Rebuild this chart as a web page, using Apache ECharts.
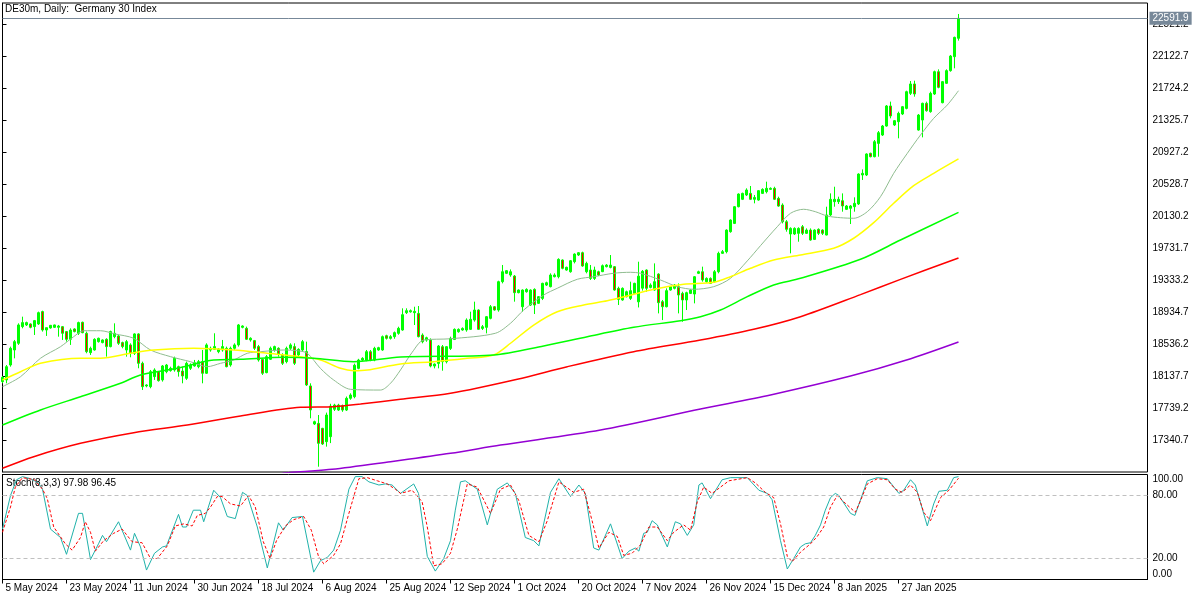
<!DOCTYPE html>
<html>
<head>
<meta charset="utf-8">
<script src="https://cdn.jsdelivr.net/npm/echarts@6.0.0/dist/echarts.min.js"></script>
<style>
html, body { margin: 0; padding: 0; background: #fff; }
#main { width: 1200px; height: 600px; }
</style>
</head>
<body>
<div id="main"></div>
<script>
// date labels, one every 16 bars (the feed has Sunday bars)
const xLabels = ['5 May 2024', '23 May 2024', '11 Jun 2024', '30 Jun 2024', '18 Jul 2024', '6 Aug 2024',
  '25 Aug 2024', '12 Sep 2024', '1 Oct 2024', '20 Oct 2024', '7 Nov 2024', '26 Nov 2024',
  '15 Dec 2024', '8 Jan 2025', '27 Jan 2025'];
const priceTicks = [17340.7, 17739.2, 18137.7, 18536.2, 18934.7, 19333.2, 19731.7, 20130.2,
  20528.7, 20927.2, 21325.7, 21724.2, 22122.7, 22521.2];
const stochTicks = [0, 20, 80, 100];

// daily bars: [open, high, low, close]
const ohlc = [
  [18066,18136,18045,18120],[18087,18273,18045,18252],[18273,18502,18252,18481],[18460,18585,18356,18564],
  [18543,18792,18523,18772],[18751,18875,18730,18801],[18772,18813,18759,18801],[18784,18792,18730,18742],
  [18751,18834,18647,18826],[18784,18938,18772,18925],[18938,18950,18689,18709],[18709,18738,18635,18738],
  [18734,18772,18726,18767],[18742,18776,18734,18772],[18742,18772,18626,18759],[18751,18759,18585,18668],
  [18689,18697,18564,18593],[18593,18730,18523,18709],[18722,18730,18680,18689],[18668,18813,18647,18801],
  [18805,18813,18668,18676],[18668,18689,18419,18439],[18427,18502,18398,18481],[18460,18606,18452,18593],
  [18564,18614,18552,18606],[18552,18593,18543,18585],[18593,18606,18377,18502],[18502,18701,18493,18689],
  [18626,18792,18606,18668],[18635,18647,18523,18543],[18552,18564,18481,18502],[18460,18585,18377,18564],
  [18523,18543,18369,18419],[18419,18668,18398,18660],[18660,18668,18232,18294],[18294,18315,17962,18003],
  [18012,18033,17995,18024],[18003,18211,17983,18190],[18128,18232,18087,18211],[18190,18198,18066,18078],
  [18087,18273,18066,18261],[18190,18286,18170,18273],[18203,18252,18190,18232],[18211,18377,18190,18356],
  [18252,18265,18128,18190],[18198,18252,18045,18136],[18107,18315,18087,18294],[18232,18294,18211,18273],
  [18261,18336,18252,18302],[18252,18336,18232,18315],[18315,18460,18045,18170],[18170,18543,18161,18523],
  [18460,18502,18439,18481],[18468,18668,18460,18502],[18439,18481,18419,18472],[18460,18585,18439,18502],
  [18481,18502,18244,18252],[18273,18502,18252,18481],[18481,18543,18460,18523],[18523,18784,18502,18772],
  [18742,18767,18730,18759],[18730,18751,18585,18593],[18585,18618,18564,18606],[18577,18585,18460,18481],
  [18502,18523,18315,18336],[18344,18356,18149,18170],[18178,18398,18170,18377],[18344,18502,18336,18481],
  [18460,18514,18439,18502],[18481,18493,18377,18410],[18398,18419,18273,18294],[18315,18502,18294,18481],
  [18481,18543,18460,18523],[18502,18543,18273,18294],[18398,18481,18385,18468],[18460,18585,18439,18564],
  [18440,18564,18012,18024],[18012,18045,17609,17713],[17538,17580,17526,17567],[17546,17650,17006,17297],
  [17484,17490,17277,17289],[17318,17680,17256,17650],[17380,17790,17300,17760],[17721,17790,17700,17774],
  [17712,17790,17700,17774],[17766,17780,17690,17712],[17712,17880,17700,17858],[17858,17920,17840,17899],
  [17878,18290,17858,18270],[18231,18350,18220,18335],[18335,18370,18320,18356],[18335,18460,18320,18439],
  [18439,18460,18320,18335],[18335,18500,18320,18481],[18460,18500,18450,18489],[18460,18640,18450,18626],
  [18638,18650,18590,18605],[18605,18645,18590,18626],[18626,18690,18600,18676],[18667,18750,18650,18730],
  [18709,18979,18700,18900],[18925,18979,18908,18950],[18935,18965,18925,18950],[18925,18999,18771,18941],
  [18916,19008,18617,18626],[18646,18667,18543,18563],[18584,18626,18563,18613],[18584,18605,18244,18260],
  [18260,18293,18231,18285],[18293,18522,18231,18509],[18501,18522,18202,18314],[18314,18509,18293,18501],
  [18480,18626,18460,18605],[18592,18729,18584,18717],[18688,18729,18675,18717],[18709,18742,18700,18729],
  [18709,18854,18688,18833],[18717,18937,18709,18842],[18833,19062,18813,18958],[18958,18966,18709,18717],
  [18729,18771,18709,18750],[18742,18883,18667,18875],[18854,19020,18842,18999],[18999,19008,18950,18958],
  [18958,19323,18937,19311],[19311,19519,19290,19435],[19415,19456,19406,19448],[19394,19464,19373,19435],
  [19381,19394,19062,19174],[19174,19215,19166,19207],[18999,19215,18937,19207],[19186,19228,19174,19215],
  [19020,19215,19008,19207],[19215,19228,18908,19020],[19041,19132,19033,19124],[19103,19298,19082,19290],
  [19269,19311,19257,19298],[19249,19415,19240,19394],[19373,19415,19365,19394],[19373,19602,19352,19589],
  [19581,19589,19465,19477],[19456,19498,19448,19490],[19435,19581,19423,19572],[19560,19664,19539,19655],
  [19643,19680,19631,19672],[19672,19685,19498,19506],[19435,19560,19415,19539],[19456,19519,19332,19352],
  [19352,19498,19332,19456],[19435,19448,19381,19394],[19436,19525,19430,19510],[19498,19530,19489,19518],
  [19489,19643,19477,19518],[19498,19506,19199,19207],[19228,19249,19020,19091],[19083,19240,19074,19228],
  [19124,19199,19116,19186],[19103,19311,19083,19199],[19165,19298,19157,19290],[19060,19560,18990,19380],
  [19230,19456,19200,19440],[19456,19464,19186,19228],[19240,19290,19228,19269],[19207,19539,19199,19311],
  [19406,19415,18916,19049],[19062,19083,18833,18999],[18999,19228,18991,19199],[19207,19257,19199,19249],
  [19228,19282,19215,19269],[19249,19290,18916,19145],[19165,19186,18812,19083],[19083,19186,18958,19174],
  [19165,19215,19157,19207],[19157,19381,19041,19373],[19415,19448,19406,19435],[19435,19498,19311,19332],
  [19311,19365,19298,19352],[19352,19365,19282,19290],[19311,19456,19298,19435],[19435,19685,19415,19664],
  [19664,19706,19656,19685],[19685,19963,19664,19954],[19934,20087,19921,20079],[20037,20253,20029,20245],
  [20245,20411,20237,20403],[20337,20420,20328,20411],[20391,20474,20378,20453],[20411,20503,20328,20337],
  [20337,20391,20287,20361],[20328,20453,20320,20445],[20411,20474,20403,20461],[20432,20557,20411,20474],
  [20461,20486,20453,20474],[20474,20494,20328,20337],[20349,20370,20245,20253],[20266,20287,20037,20058],
  [20058,20079,19934,19963],[19905,19988,19664,19975],[19905,19988,19892,19975],[19913,19988,19809,19975],
  [19996,20017,19892,19913],[19913,19975,19905,19954],[19954,19975,19822,19830],[19838,19963,19830,19954],
  [19963,19975,19892,19913],[19954,19963,19892,19913],[19892,20245,19888,20142],[20142,20411,20129,20337],
  [20308,20494,20245,20337],[20308,20370,20279,20337],[20320,20411,20183,20254],[20212,20266,20204,20254],
  [20225,20266,20029,20254],[20245,20362,20183,20287],[20279,20661,20266,20652],[20640,20710,20578,20661],
  [20640,20910,20627,20902],[20910,20918,20860,20868],[20868,21076,20860,21055],[21034,21188,20868,21167],
  [21138,21263,21126,21250],[21250,21512,21242,21500],[21500,21554,21346,21375],[21263,21325,21250,21317],
  [21304,21429,21097,21408],[21400,21500,21387,21491],[21470,21690,21458,21678],[21657,21811,21637,21774],
  [21774,21815,21616,21649],[21200,21400,21192,21387],[21325,21541,21109,21533],[21533,21554,21429,21441],
  [21429,21678,21416,21657],[21649,21940,21637,21927],[21927,21956,21720,21732],[21541,21811,21533,21803],
  [21782,21956,21774,21940],[21940,22135,21927,22122],[22114,22363,21969,22355],[22343,22646,22314,22591.9]
];
const lastPrice = 22591.9;

// moving averages: [bar, price]
const maGrey = [[0,18003],[4.5,18127],[9.5,18357],[14.5,18501],[17.8,18626],[20.3,18700],[24.5,18700],
  [28.2,18659],[32.8,18606],[37,18460],[42,18377],[47,18314],[51.2,18252],[54.5,18294],[57.8,18335],
  [61.2,18419],[64.5,18439],[70.3,18460],[73.7,18451],[76.2,18419],[79.5,18230],[82.8,18086],[87,17970],
  [94.5,17961],[97,18045],[99.5,18211],[102.4,18430],[105.3,18584],[112,18600],[123.2,18668],[127,18793],
  [130.3,18958],[135.3,19145],[138.7,19229],[143.7,19341],[147.8,19373],[152.8,19416],[157,19428],
  [159.5,19416],[164.5,19332],[168.7,19249],[172.8,19216],[177.8,19249],[182,19353],[186.2,19570],
  [189.5,19760],[193.7,19996],[197,20163],[200.3,20213],[203.2,20183],[206.2,20129],[209.5,20108],
  [212.8,20101],[216.2,20183],[219.5,20370],[222.8,20661],[226.2,20910],[229.5,21138],[232.8,21346],
  [236.2,21512],[239,21690]];
const maYellow = [[0,18086],[4.5,18189],[9.5,18294],[19.5,18357],[24.5,18357],[32,18419],[37.8,18460],
  [47.8,18481],[57.8,18460],[66.2,18419],[74.5,18377],[79.5,18335],[84.5,18232],[87.8,18202],[91.2,18211],
  [99.5,18286],[107.8,18314],[116.2,18357],[122.8,18398],[127,18544],[132.8,18771],[138.7,18937],
  [145.3,19021],[151.2,19074],[156.2,19133],[162.8,19216],[170.3,19278],[177.8,19303],[182,19373],
  [187,19478],[192.8,19581],[199.5,19644],[207.8,19727],[212.8,19852],[217.8,20046],[222.8,20288],
  [227.8,20507],[232.8,20661],[239,20840]];
const maGreen = [[0,17526],[9.5,17713],[19.5,17878],[29.5,18045],[34.5,18148],[43.7,18232],[52.8,18335],
  [59.5,18344],[70.3,18369],[77.8,18357],[87.8,18314],[99.5,18373],[122.8,18398],[135.3,18510],
  [146.2,18626],[157.8,18743],[169.5,18825],[174.5,18875],[179.5,18958],[186.2,19124],[192.8,19270],
  [199.5,19353],[214.5,19590],[224.5,19830],[239,20175]];
const maRed = [[0,16986],[7.8,17131],[19.5,17297],[32.8,17430],[46.2,17526],[59.5,17638],[74.5,17746],
  [82.8,17754],[89.5,17787],[99.5,17846],[112,17920],[128.7,18095],[141.2,18252],[157.8,18439],
  [174.5,18584],[187.8,18718],[199.5,18875],[214.5,19150],[224.5,19340],[239,19606]];
const maPurple = [[70,16925],[74.5,16944],[82.4,16973],[97,17069],[112,17173],[124.5,17276],[149.5,17463],
  [174.5,17725],[192,17900],[212,18135],[226,18335],[239,18560]];

// stochastic (8,3,3): [bar, value]
const stochMain = [[0,48],[2,80],[3.5,95],[5,98],[7,96],[9,92],[10,86],[12,48],[14.5,40],[16,24],[19,63],
  [20,63],[22,19],[24,34],[25,42],[26,36],[29,55],[32,28],[33,44],[34.5,31],[36,9],[38,25],[40,31],[41,32],
  [44,62],[45,50],[46,50],[47.7,66],[49.5,66],[50.3,55],[52.8,85],[54.5,78],[56.2,60],[58.2,58],[60,83],
  [61.2,80],[63.7,50],[66.2,11],[69,54],[70.2,47],[72.4,59],[75,60],[77.8,7],[79.5,18],[81.2,21],[82.8,28],
  [84.5,47],[86.6,86],[88.2,98],[89.9,98],[91.6,93],[94.1,90],[95.7,91],[97.4,90],[99.5,82],[102.8,91],
  [104,82],[106.2,22],[108.2,8],[110.3,20],[112,37],[113.2,66],[114.5,93],[115.7,94],[118.7,86],[121.2,52],
  [123.7,86],[126.2,92],[128.2,82],[130.7,40],[132.8,37],[134.1,32],[137,83],[139.1,96],[142,79],[144.1,90],
  [145.7,82],[147.8,30],[149.1,28],[152,53],[154.9,20],[156.6,27],[158.2,30],[159.1,27],[160.3,44],
  [161.2,45],[162.4,56],[163.7,52],[166.2,31],[168.2,55],[169.5,53],[171.2,42],[172.8,52],[174.1,90],
  [174.9,92],[177,77],[179.9,95],[182,97],[186.2,97],[189.1,85],[191.2,82],[192.4,76],[194.5,37],[196.2,10],
  [197.8,20],[199.5,31],[200.7,34],[202,35],[203.2,42],[204.5,52],[205.7,66],[207,78],[208.2,82],[209.1,80],
  [212,63],[213.1,61],[216.2,94],[218.7,97],[221.2,96],[224.1,82],[225.3,85],[227,95],[228.2,90],[231.2,51],
  [232.8,72],[234.1,84],[236.2,85],[237.8,97],[239,97.98]];
const stochSignal = [[0,45],[2,69],[3.2,88],[5,97],[8,95],[10,86],[11.2,77],[12.8,50],[15.7,34],[17.4,28],
  [19.5,40],[20.7,55],[22,45],[23.2,27],[25.3,37],[27.8,44],[29.9,48],[32.4,36],[34.9,35],[37,20],[38.7,20],
  [41.2,32],[43.2,51],[45.3,53],[47.4,51],[48.7,61],[50.7,63],[52,69],[53.7,79],[54.9,79],[57,72],[59.5,70],
  [61.5,80],[63.2,69],[65.2,36],[66.9,20],[68.5,37],[70.7,51],[72.8,57],[75.3,60],[77.2,47],[79,22],
  [80.3,15],[82.8,23],[84.5,34],[86.6,63],[89.1,96],[91.2,97],[93.7,94],[96.2,91],[98.2,86],[99.5,82],
  [102.4,85],[104.9,74],[106.2,50],[107.8,13],[109.9,15],[112,25],[113.7,48],[116.2,91],[118.7,88],[122,63],
  [124.5,86],[127,90],[129.1,75],[131.6,42],[134.1,36],[136.2,56],[139.1,93],[142.8,83],[145.3,86],
  [147.4,56],[149.1,30],[151.6,45],[153.7,41],[155.3,23],[157.4,25],[159.5,33],[161.6,50],[163.7,50],
  [166.2,37],[167.8,45],[170.3,52],[172,47],[173.7,74],[175.3,88],[177.4,82],[179.5,88],[181.6,94],
  [186.2,97],[188.2,92],[190.7,83],[192.8,78],[194.5,53],[196.2,22],[197.4,17],[199.5,26],[202,34],
  [203.7,41],[205.3,50],[207,69],[208.7,80],[210.3,74],[213.2,64],[214.5,75],[216.2,91],[218.7,96],
  [221.2,95],[223.2,86],[224.9,83],[227,90],[228.7,83],[230.3,64],[232,56],[234.5,78],[236.6,85],
  [238.7,95],[239,96.45]];

const FONT = '"Liberation Sans", Arial, sans-serif';
const xTickBars = xLabels.map((_, i) => i * 16);
const candles = ohlc.map((r, i) => [i, r[0], r[3], r[2], r[1]]);

let chart = echarts.init(document.getElementById('main'));

function maLine(name, data, color, width) {
  return {
    name: name, type: 'line', xAxisIndex: 0, yAxisIndex: 0,
    data: data, showSymbol: false, smooth: 0.3, silent: true,
    lineStyle: { color: color, width: width }
  };
}

chart.setOption({
  animation: false,
  backgroundColor: '#fff',
  textStyle: { fontFamily: FONT },
  grid: [
    { left: 2.5, top: 3, width: 1145, height: 469, show: true, borderColor: '#000', borderWidth: 1 },
    { left: 2.5, top: 474.5, width: 1145, height: 105, show: true, borderColor: '#000', borderWidth: 1 }
  ],
  xAxis: [
    { gridIndex: 0, type: 'value', min: 0, max: 286.25, show: false },
    {
      gridIndex: 1, type: 'value', min: 0, max: 286.25,
      axisLine: { show: true, lineStyle: { color: '#000' } },
      axisTick: { show: true, length: 4, customValues: xTickBars, lineStyle: { color: '#000' } },
      axisLabel: {
        customValues: xTickBars, align: 'left', margin: 4, padding: [0, 0, 0, 3],
        color: '#000', fontSize: 10, fontFamily: FONT,
        formatter: v => xLabels[Math.round(v / 16)] || ''
      },
      splitLine: { show: false }
    }
  ],
  yAxis: [
    {
      gridIndex: 0, type: 'value', position: 'right', min: 16940, max: 22782.8,
      axisLine: { show: true, lineStyle: { color: '#000' } },
      axisTick: { show: true, length: 4, customValues: priceTicks, lineStyle: { color: '#000' } },
      axisLabel: {
        customValues: priceTicks, margin: 5, color: '#000', fontSize: 10, fontFamily: FONT,
        formatter: v => v.toFixed(1)
      },
      splitLine: { show: false }
    },
    {
      gridIndex: 1, type: 'value', position: 'right', min: 0, max: 100,
      axisLine: { show: true, lineStyle: { color: '#000' } },
      axisTick: { show: true, length: 4, customValues: stochTicks, lineStyle: { color: '#000' } },
      axisLabel: {
        customValues: stochTicks, margin: 5, color: '#000', fontSize: 10, fontFamily: FONT,
        verticalAlignMinLabel: 'bottom', verticalAlignMaxLabel: 'top',
        formatter: v => v.toFixed(2)
      },
      splitLine: { show: false }
    }
  ],
  graphic: [
    { type: 'text', left: 5, top: 4, style: { text: 'DE30m, Daily:  Germany 30 Index', fill: '#000', font: '10px ' + FONT } },
    {
      type: 'text', left: 6, top: 478,
      style: {
        text: 'Stoch(8,3,3) ' + stochMain[stochMain.length - 1][1].toFixed(2) + ' ' + stochSignal[stochSignal.length - 1][1].toFixed(2),
        fill: '#000', font: '10px ' + FONT
      }
    }
  ],
  series: [
    {
      name: 'DE30m', type: 'candlestick', xAxisIndex: 0, yAxisIndex: 0,
      data: candles, encode: { x: 0, y: [1, 2, 3, 4] }, barWidth: 2,
      itemStyle: { color: '#00FF00', color0: '#FF0000', borderColor: '#00FF00', borderColor0: '#00FF00', borderWidth: 1 },
      markLine: {
        silent: true, symbol: ['none', 'none'],
        lineStyle: { color: '#778899', width: 1, type: 'solid' },
        label: {
          show: true, position: 'end', distance: 2, formatter: lastPrice.toFixed(1),
          backgroundColor: '#778899', color: '#fff', padding: [2, 3, 1, 3], fontSize: 10, fontFamily: FONT
        },
        data: [{ yAxis: lastPrice }]
      }
    },
    maLine('MA grey', maGrey, '#8FBC8F', 1),
    maLine('MA yellow', maYellow, '#FFFF00', 1.5),
    maLine('MA green', maGreen, '#00FF00', 1.5),
    maLine('MA red', maRed, '#FF0000', 1.5),
    maLine('MA purple', maPurple, '#9400D3', 1.5),
    {
      name: 'Stoch main', type: 'line', xAxisIndex: 1, yAxisIndex: 1,
      data: stochMain, showSymbol: false, silent: true,
      lineStyle: { color: '#20B2AA', width: 1 },
      markLine: {
        silent: true, symbol: ['none', 'none'], label: { show: false },
        lineStyle: { color: '#C0C0C0', width: 1, type: [4, 3] },
        data: [{ yAxis: 20 }, { yAxis: 80 }]
      }
    },
    {
      name: 'Stoch signal', type: 'line', xAxisIndex: 1, yAxisIndex: 1,
      data: stochSignal, showSymbol: false, silent: true,
      lineStyle: { color: '#FF0000', width: 1, type: [3, 2] }
    }
  ]
});

window.addEventListener('resize', function () {
  chart.resize();
});
</script>
</body>
</html>
